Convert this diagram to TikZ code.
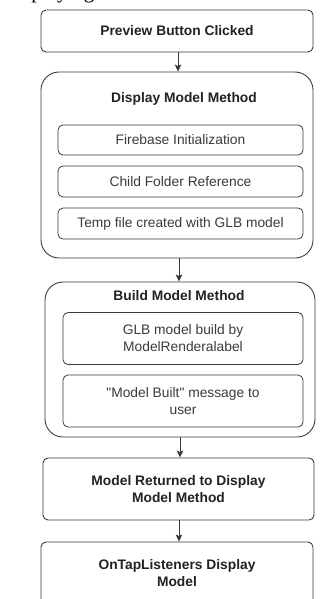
\documentclass[tikz,border=0pt]{standalone}
\usepackage{fontspec}
\setmainfont{Liberation Sans}
\newfontfamily\captionserif{Liberation Serif}
\usetikzlibrary{arrows.meta}
\definecolor{edge}{HTML}{3A3A3A}
\definecolor{ink}{HTML}{222222}
\definecolor{softink}{HTML}{3A3A3A}
\tikzset{
  every picture/.style={x=1pt,y=-1pt},
  stepbox/.style={draw=edge,line width=0.9pt,rounded corners=5pt,inner sep=0pt,
    text=ink,font=\fontsize{13.8}{17}\selectfont\bfseries,align=center},
  groupbox/.style={draw=edge,line width=0.9pt,rounded corners=18pt,inner sep=0pt},
  innerbox/.style={draw=edge,line width=0.8pt,rounded corners=5pt,inner sep=0pt,
    text=softink,font=\fontsize{13.8}{17}\selectfont,align=center},
  grouptitle/.style={text=ink,font=\fontsize{13.8}{17}\selectfont\bfseries,inner sep=0pt},
  flow/.style={draw=edge,line width=0.9pt,-{Stealth[length=7pt,width=6.5pt,inset=1.5pt]}}
}
\begin{document}
\begin{tikzpicture}
\useasboundingbox (0,0) rectangle (324,599);
\clip (0,0) rectangle (324,599);

% caption of the figure above, mostly outside the frame
\node[anchor=base west,inner sep=0pt,font=\captionserif\fontsize{21}{24}\selectfont] (cap) at (2,-1) {Displaying};

% first step
\node[stepbox,minimum width=272pt,minimum height=42pt] (preview) at (177,31) {Preview Button Clicked};

% display model method group
\node[groupbox,minimum width=272pt,minimum height=186pt] (display) at (177,165) {};
\node[grouptitle] (displaytitle) at (184,99) {Display Model Method};
\node[innerbox,minimum width=245pt,minimum height=30pt] (firebase) at (180.5,140) {Firebase Initialization};
\node[innerbox,minimum width=245pt,minimum height=31pt] (child) at (180.5,181.5) {Child Folder Reference};
\node[innerbox,minimum width=245pt,minimum height=31pt] (temp) at (180.5,223.5) {Temp file created with GLB model};

% build model method group
\node[groupbox,minimum width=270pt,minimum height=155pt] (build) at (180,359.5) {};
\node[grouptitle] (buildtitle) at (179,296) {Build Model Method};
\node[innerbox,minimum width=240pt,minimum height=52pt] (glb) at (183,338.5) {GLB model build by\\ModelRenderalabel};
\node[innerbox,minimum width=240pt,minimum height=52pt] (built) at (183,401) {\textquotedbl Model Built\textquotedbl{} message to\\user};

% final steps
\node[stepbox,minimum width=271pt,minimum height=62pt] (returned) at (178.5,489) {Model Returned to Display\\Model Method};
\node[stepbox,minimum width=272pt,minimum height=62pt] (ontap) at (177,573) {OnTapListeners Display\\Model};

% connectors
\draw[flow] (178,0 |- preview.south) -- (178,0 |- display.north);
\draw[flow] (179,0 |- display.south) -- (179,0 |- build.north);
\draw[flow] (180,0 |- build.south) -- (180,0 |- returned.north);
\draw[flow] (179,0 |- returned.south) -- (179,0 |- ontap.north);
\end{tikzpicture}
\end{document}
